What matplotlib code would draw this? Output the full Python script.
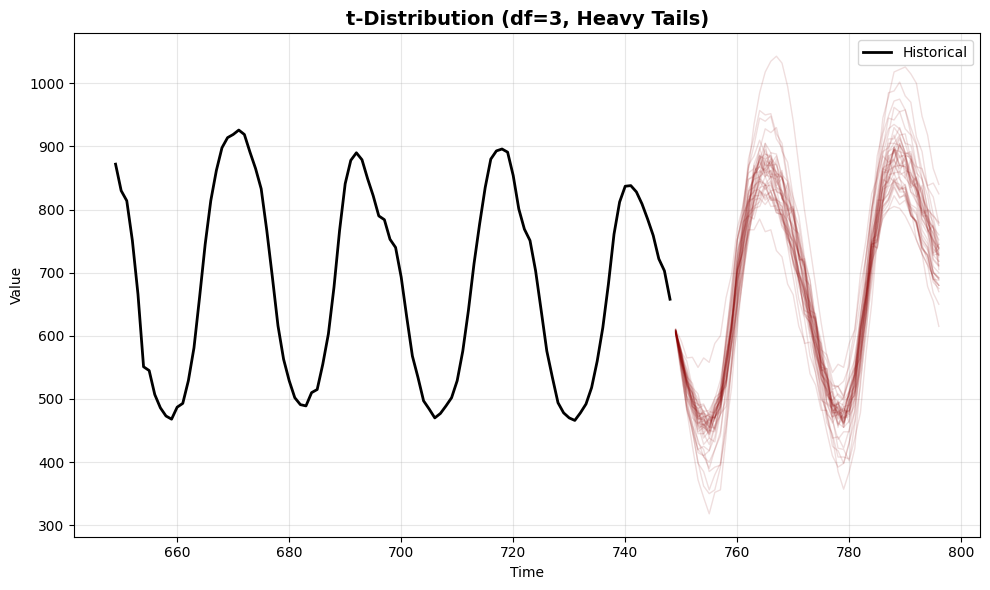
import numpy as np
import matplotlib
matplotlib.use('Agg')
import matplotlib.pyplot as plt

# historical series, t = 649 .. 748
hist_start = 649
historical = [
    872, 830, 814, 751, 666, 551, 545, 507, 486, 473,
    468, 487, 493, 529, 581, 661, 745, 814, 862, 898,
    914, 919, 926, 919, 891, 865, 833, 767, 693, 616,
    563, 529, 502, 491, 489, 510, 515, 555, 603, 677,
    767, 841, 878, 890, 879, 849, 822, 790, 784, 753,
    740, 693, 629, 568, 534, 497, 484, 470, 477, 489,
    502, 529, 576, 640, 714, 777, 835, 880, 893, 896,
    891, 854, 801, 769, 751, 703, 640, 576, 534, 494,
    478, 470, 466, 478, 492, 518, 560, 613, 682, 761,
    812, 837, 838, 828, 809, 785, 759, 722, 703, 658,
]

# forecast sample paths, t = 749 .. 796 (12 values per row)
fc_start = 749
path_01 = [606, 572, 540, 512, 492, 480, 482, 500, 530, 585, 650, 725,
           800, 865, 935, 985, 1018, 1035, 1043, 1032, 995, 940, 870, 800,
           740, 680, 620, 568, 530, 505, 498, 512, 550, 610, 680, 748,
           805, 850, 880, 895, 892, 875, 850, 822, 795, 770, 750, 738]
path_02 = [604, 545, 482, 425, 372, 344, 318, 352, 356, 440, 560, 665,
           745, 790, 835, 850, 866, 852, 848, 818, 800, 760, 728, 682,
           640, 598, 548, 515, 490, 478, 470, 472, 490, 545, 610, 680,
           752, 810, 845, 868, 870, 868, 850, 835, 808, 782, 752, 728]
path_03 = [610, 555, 528, 480, 468, 438, 450, 448, 490, 522, 612, 672,
           760, 798, 862, 868, 895, 870, 872, 828, 815, 755, 730, 665,
           635, 568, 538, 472, 440, 385, 357, 385, 422, 530, 600, 712,
           765, 842, 860, 898, 885, 885, 848, 832, 785, 768, 722, 712]
path_04 = [608, 575, 522, 510, 472, 478, 458, 485, 495, 560, 610, 705,
           730, 790, 800, 830, 818, 830, 800, 800, 762, 750, 700, 680,
           638, 612, 552, 535, 490, 494, 478, 510, 540, 632, 698, 800,
           862, 945, 978, 1018, 1022, 1026, 1015, 1000, 948, 918, 865, 840]
path_05 = [606, 555, 530, 488, 480, 455, 470, 470, 515, 530, 590, 650,
           720, 775, 822, 822, 840, 815, 815, 775, 765, 712, 692, 635,
           628, 570, 548, 502, 498, 475, 495, 505, 568, 622, 725, 792,
           885, 925, 985, 988, 1002, 980, 970, 915, 892, 835, 820, 778]
path_06 = [609, 570, 528, 510, 478, 475, 462, 490, 505, 562, 618, 705,
           762, 825, 848, 885, 880, 885, 858, 852, 808, 790, 730, 712,
           650, 622, 560, 540, 488, 492, 470, 510, 540, 625, 690, 790,
           850, 920, 948, 972, 975, 958, 930, 905, 862, 835, 792, 775]
path_07 = [603, 562, 505, 485, 445, 445, 428, 458, 475, 548, 612, 720,
           785, 880, 915, 957, 950, 952, 920, 905, 850, 818, 745, 708,
           635, 602, 542, 520, 478, 478, 460, 490, 510, 588, 640, 728,
           770, 835, 848, 878, 865, 872, 842, 835, 792, 780, 738, 728]
path_08 = [605, 548, 482, 452, 398, 385, 356, 380, 398, 480, 552, 660,
           705, 775, 795, 830, 822, 828, 800, 792, 752, 735, 685, 660,
           615, 588, 532, 512, 472, 475, 462, 498, 522, 600, 655, 738,
           778, 835, 845, 870, 855, 860, 828, 820, 778, 762, 720, 710]
path_09 = [610, 592, 565, 566, 550, 565, 558, 588, 600, 660, 698, 770,
           805, 858, 865, 888, 870, 870, 835, 822, 775, 752, 698, 670,
           610, 582, 530, 515, 480, 488, 478, 512, 538, 612, 665, 748,
           738, 795, 808, 835, 818, 825, 790, 782, 740, 728, 690, 680]
path_10 = [607, 568, 515, 498, 462, 465, 450, 480, 492, 556, 605, 688,
           720, 768, 768, 785, 765, 768, 735, 725, 682, 665, 615, 592,
           540, 522, 482, 482, 462, 480, 476, 515, 540, 612, 665, 750,
           752, 812, 825, 850, 832, 836, 802, 792, 752, 740, 700, 690]
path_11 = [611, 575, 560, 518, 508, 472, 474, 452, 476, 488, 552, 608,
           698, 750, 820, 840, 878, 872, 885, 855, 845, 798, 775, 718,
           688, 625, 592, 535, 515, 480, 485, 475, 512, 545, 628, 688,
           772, 815, 870, 878, 902, 888, 892, 858, 848, 802, 788, 745]
path_12 = [604, 558, 500, 482, 448, 455, 448, 488, 518, 600, 665, 752,
           792, 848, 855, 878, 855, 852, 812, 798, 745, 718, 658, 628,
           568, 542, 498, 492, 470, 492, 502, 562, 610, 698, 752, 825,
           850, 885, 875, 880, 848, 838, 795, 780, 738, 728, 690, 688]
path_13 = [608, 572, 520, 508, 460, 472, 438, 472, 480, 555, 590, 700,
           735, 820, 828, 885, 852, 880, 838, 850, 790, 800, 720, 722,
           640, 635, 550, 548, 478, 495, 455, 498, 505, 605, 640, 745,
           770, 848, 842, 895, 858, 885, 838, 850, 795, 800, 732, 745]
path_14 = [606, 574, 528, 518, 485, 490, 475, 502, 510, 595, 680, 752,
           790, 812, 818, 850, 840, 852, 828, 825, 788, 775, 728, 708,
           655, 630, 578, 560, 520, 520, 502, 530, 548, 615, 665, 742,
           740, 790, 800, 822, 808, 815, 790, 782, 748, 736, 700, 692]
path_15 = [605, 556, 490, 462, 415, 410, 390, 420, 442, 522, 598, 708,
           778, 865, 902, 945, 940, 948, 912, 898, 842, 810, 740, 698,
           622, 578, 508, 476, 425, 418, 398, 432, 465, 555, 632, 740,
           808, 888, 920, 962, 955, 958, 920, 902, 848, 822, 770, 752]
path_16 = [609, 560, 538, 492, 485, 458, 472, 470, 510, 520, 585, 640,
           705, 765, 815, 818, 838, 818, 818, 785, 770, 720, 692, 635,
           620, 552, 520, 462, 445, 408, 408, 405, 460, 520, 622, 698,
           792, 838, 892, 898, 915, 890, 885, 842, 825, 778, 762, 718]
path_17 = [607, 570, 520, 502, 468, 468, 455, 482, 498, 562, 618, 708,
           755, 815, 830, 862, 852, 862, 835, 830, 788, 770, 718, 695,
           642, 622, 578, 570, 542, 555, 550, 588, 610, 678, 725, 802,
           840, 892, 898, 918, 892, 888, 845, 830, 785, 770, 728, 718]
path_18 = [608, 558, 528, 484, 472, 445, 456, 454, 495, 532, 620, 685,
           730, 760, 802, 805, 826, 805, 806, 772, 760, 715, 690, 640,
           636, 575, 546, 495, 486, 458, 472, 475, 530, 578, 662, 718,
           790, 815, 852, 845, 852, 818, 802, 752, 730, 678, 655, 615]
path_19 = [606, 566, 512, 492, 456, 456, 444, 470, 488, 552, 612, 705,
           735, 790, 825, 858, 866, 876, 858, 850, 818, 792, 745, 708,
           655, 612, 562, 530, 492, 485, 470, 490, 508, 572, 630, 712,
           780, 832, 838, 858, 835, 832, 792, 778, 730, 712, 668, 650]
path_20 = [604, 546, 502, 458, 435, 408, 400, 420, 448, 515, 590, 680,
           752, 805, 855, 868, 885, 868, 860, 825, 805, 760, 730, 680,
           645, 590, 560, 508, 492, 468, 475, 482, 535, 585, 665, 722,
           790, 822, 862, 868, 885, 862, 858, 832, 810, 780, 762, 740]
path_21 = [610, 566, 546, 505, 496, 470, 476, 470, 502, 528, 602, 660,
           750, 802, 872, 895, 928, 922, 930, 892, 875, 820, 790, 725,
           688, 620, 585, 528, 510, 475, 482, 480, 530, 575, 660, 718,
           798, 835, 885, 890, 912, 890, 888, 848, 832, 788, 772, 735]
path_22 = [607, 566, 512, 495, 458, 460, 444, 472, 488, 530, 580, 645,
           700, 765, 812, 848, 838, 845, 812, 805, 758, 735, 678, 648,
           598, 562, 502, 480, 438, 440, 422, 452, 480, 566, 632, 730,
           792, 870, 895, 930, 918, 920, 880, 865, 818, 800, 752, 740]
path_23 = [608, 560, 536, 494, 484, 458, 468, 468, 508, 540, 622, 685,
           762, 798, 848, 852, 875, 852, 855, 818, 804, 752, 728, 668,
           638, 578, 552, 505, 498, 470, 488, 490, 548, 598, 688, 748,
           828, 865, 912, 912, 930, 905, 902, 868, 865, 838, 842, 825]
path_24 = [609, 570, 518, 498, 462, 460, 446, 472, 486, 575, 655, 735,
           760, 790, 785, 818, 808, 820, 795, 792, 752, 738, 690, 668,
           638, 608, 548, 526, 482, 482, 462, 492, 518, 598, 658, 745,
           748, 805, 818, 845, 832, 840, 808, 802, 760, 746, 702, 692]
path_25 = [605, 575, 526, 510, 468, 472, 452, 482, 498, 565, 612, 712,
           748, 830, 835, 885, 862, 880, 842, 858, 798, 802, 728, 715,
           630, 628, 548, 538, 468, 488, 455, 500, 512, 612, 650, 760,
           782, 860, 858, 900, 870, 885, 842, 852, 792, 798, 730, 738]
path_26 = [603, 546, 484, 456, 420, 425, 418, 458, 488, 568, 632, 725,
           770, 832, 848, 875, 858, 862, 830, 822, 778, 758, 702, 675,
           618, 592, 540, 525, 488, 492, 480, 510, 532, 608, 662, 745,
           750, 805, 815, 838, 820, 822, 790, 780, 740, 728, 690, 680]
path_27 = [608, 572, 524, 508, 476, 478, 466, 492, 505, 565, 615, 700,
           740, 795, 805, 830, 815, 822, 795, 792, 755, 742, 695, 675,
           622, 602, 558, 548, 515, 520, 505, 532, 552, 622, 675, 755,
           798, 855, 868, 895, 882, 888, 855, 845, 802, 788, 745, 732]
path_28 = [607, 558, 532, 488, 478, 452, 466, 465, 508, 525, 590, 648,
           715, 782, 830, 832, 852, 830, 832, 795, 782, 732, 708, 652,
           632, 570, 542, 492, 485, 460, 478, 482, 542, 598, 698, 768,
           858, 898, 945, 942, 955, 928, 918, 870, 850, 798, 780, 738]
path_29 = [606, 562, 502, 478, 430, 420, 385, 392, 395, 452, 518, 628,
           690, 775, 815, 852, 860, 872, 852, 852, 818, 800, 750, 722,
           665, 625, 568, 540, 492, 485, 462, 482, 500, 570, 632, 718,
           740, 800, 815, 842, 830, 835, 805, 795, 755, 740, 700, 690]
path_30 = [609, 562, 540, 496, 492, 464, 480, 478, 520, 555, 640, 700,
           778, 810, 858, 860, 880, 856, 856, 818, 806, 758, 735, 680,
           652, 590, 558, 495, 470, 422, 420, 402, 438, 478, 572, 650,
           752, 808, 870, 880, 905, 885, 884, 845, 830, 785, 770, 728]
path_31 = [607, 560, 535, 488, 482, 445, 470, 450, 500, 528, 625, 672,
           780, 790, 870, 848, 905, 850, 880, 815, 842, 770, 762, 690,
           680, 600, 588, 505, 512, 455, 488, 462, 548, 565, 682, 710,
           815, 815, 885, 855, 905, 850, 880, 820, 838, 765, 775, 705]
path_32 = [605, 562, 505, 488, 452, 460, 450, 486, 512, 590, 655, 750,
           805, 870, 885, 910, 888, 885, 845, 828, 772, 745, 688, 660,
           605, 582, 538, 528, 498, 508, 500, 538, 562, 636, 688, 770,
           810, 866, 872, 894, 870, 868, 828, 812, 768, 752, 710, 700]
path_33 = [606, 552, 522, 470, 460, 428, 438, 432, 476, 498, 565, 625,
           690, 758, 805, 812, 835, 815, 816, 782, 768, 718, 692, 632,
           622, 558, 528, 476, 466, 436, 448, 448, 506, 560, 658, 728,
           818, 858, 905, 905, 918, 888, 880, 835, 815, 768, 752, 712]
path_34 = [609, 578, 530, 515, 470, 482, 455, 490, 500, 572, 620, 718,
           768, 848, 852, 898, 868, 890, 850, 862, 800, 805, 722, 718,
           632, 630, 545, 548, 472, 498, 462, 508, 520, 618, 660, 765,
           790, 865, 860, 898, 868, 880, 835, 842, 790, 790, 728, 730]
path_35 = [608, 578, 535, 525, 490, 492, 472, 496, 505, 590, 672, 752,
           790, 815, 818, 845, 832, 842, 815, 810, 768, 750, 698, 672,
           615, 588, 532, 516, 478, 480, 465, 498, 525, 606, 665, 752,
           760, 815, 825, 848, 828, 828, 792, 780, 738, 725, 685, 675]
path_36 = [610, 575, 548, 515, 500, 478, 472, 470, 495, 522, 590, 655,
           738, 790, 858, 878, 905, 890, 888, 850, 832, 788, 760, 712,
           672, 612, 570, 522, 490, 462, 455, 465, 500, 560, 640, 705,
           782, 815, 855, 858, 860, 850, 838, 812, 800, 782, 772, 760]
path_37 = [603, 538, 488, 448, 420, 410, 418, 440, 482, 545, 628, 705,
           768, 812, 838, 845, 840, 828, 810, 790, 762, 730, 698, 662,
           625, 592, 560, 535, 522, 520, 528, 552, 595, 655, 728, 800,
           858, 900, 928, 935, 928, 905, 875, 848, 822, 800, 790, 780]
path_38 = [605, 552, 496, 448, 400, 362, 350, 356, 392, 462, 552, 648,
           740, 805, 855, 880, 888, 882, 870, 850, 825, 792, 752, 712,
           668, 622, 575, 530, 495, 475, 468, 480, 515, 578, 650, 728,
           770, 812, 836, 844, 840, 825, 802, 775, 745, 718, 692, 670]
path_39 = [608, 565, 525, 500, 474, 468, 460, 478, 498, 548, 610, 690,
           765, 825, 855, 868, 862, 845, 820, 785, 742, 692, 640, 588,
           590, 540, 490, 448, 410, 392, 398, 430, 485, 560, 645, 728,
           800, 858, 892, 905, 902, 885, 860, 832, 800, 770, 745, 725]
path_40 = [607, 568, 522, 500, 470, 466, 456, 478, 500, 555, 622, 700,
           735, 785, 812, 835, 838, 838, 818, 805, 770, 745, 700, 672,
           652, 615, 568, 538, 505, 495, 490, 505, 538, 590, 650, 712,
           755, 785, 800, 805, 802, 790, 772, 752, 730, 712, 695, 680]

forecast_paths = [path_01, path_02, path_03, path_04, path_05, path_06, path_07,
                  path_08, path_09, path_10, path_11, path_12, path_13, path_14,
                  path_15, path_16, path_17, path_18, path_19, path_20, path_21,
                  path_22, path_23, path_24, path_25, path_26, path_27, path_28,
                  path_29, path_30, path_31, path_32, path_33, path_34, path_35,
                  path_36, path_37, path_38, path_39, path_40]

fig, ax = plt.subplots(figsize=(10, 6))

hist_t = np.arange(hist_start, hist_start + len(historical))
ax.plot(hist_t, historical, color='black', linewidth=2, label='Historical')

for p in forecast_paths:
    t = np.arange(fc_start, fc_start + len(p))
    ax.plot(t, p, color='darkred', alpha=0.13, linewidth=1)

ax.set_title('t-Distribution (df=3, Heavy Tails)', fontsize=14, fontweight='bold')
ax.set_xlabel('Time')
ax.set_ylabel('Value')
ax.legend(loc='upper right')
ax.grid(True, alpha=0.3)

plt.tight_layout()
plt.savefig('out.png', dpi=100, bbox_inches='tight')
